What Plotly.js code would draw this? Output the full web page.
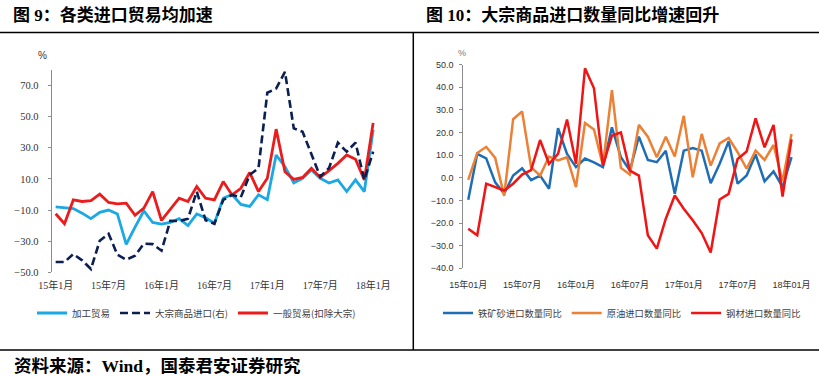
<!DOCTYPE html>
<html>
<head>
<meta charset="utf-8">
<script src="https://cdn.plot.ly/plotly-3.0.1.min.js"></script>
<style>
html,body{margin:0;padding:0;background:#fff;}
#chart{width:819px;height:376px;}
</style>
</head>
<body>
<div id="chart"></div>
<script>
// ---- Data ----
const months = ["2015-01","2015-02","2015-03","2015-04","2015-05","2015-06","2015-07","2015-08","2015-09","2015-10","2015-11","2015-12",
"2016-01","2016-02","2016-03","2016-04","2016-05","2016-06","2016-07","2016-08","2016-09","2016-10","2016-11","2016-12",
"2017-01","2017-02","2017-03","2017-04","2017-05","2017-06","2017-07","2017-08","2017-09","2017-10","2017-11","2017-12","2018-01"];
const tickMonths = ["2015-01","2015-07","2016-01","2016-07","2017-01","2017-07","2018-01"];
const tickTextLeft = ["15年1月","15年7月","16年1月","16年7月","17年1月","17年7月","18年1月"];
const tickTextRight = ["15年01月","15年07月","16年01月","16年07月","17年01月","17年07月","18年01月"];

// Fig 9 (%, YoY)
const processingTrade = [-8,-8.5,-9,-12,-15.5,-11.5,-10,-12.5,-32,-21,-10.5,-18,-19,-18,-15.5,-20,-12.5,-15,-18.5,-2.4,0,-6.4,-7.7,-0.2,-3.3,25.4,17.9,7.4,10.4,15.7,10.4,7.4,9.4,1.9,9.4,1.9,41.5];
const bulkImports = [-43.4,-43.4,-38.3,-42.3,-47.9,-29.7,-25.2,-38.7,-41.9,-39.4,-31.6,-31.9,-36.1,-16.9,-17.1,-15.6,1.9,-16.5,-18.8,-3.5,-0.3,-1.7,12.6,16.9,65.4,68.1,78.8,42.5,40.3,26,11.5,17,33.3,27.5,33.3,9.4,27.5];
const generalTrade = [-12.4,-18.8,-3.5,-4.5,-3.9,0.2,-5.1,-6,-5.6,-13.4,-8.8,1.9,-16.7,-9.9,-2.4,-4.5,5.1,-2.4,-3.5,8.3,-0.3,4,14.1,1.9,10.4,42,14.6,9.7,11,16.8,11,15.3,20,25.4,22.6,9.4,46];

// Fig 10 (%, YoY volume)
const ironOre = [-9.7,10.6,8.6,-2,-7,1,4.2,-1,1,-4.8,21.9,10.6,4.7,8.5,6.8,4.7,22.3,9.1,3.2,18.2,7.9,6.9,12,-7.1,12,13.2,12,-2.4,6.2,16.1,-2.6,1,10.3,-1.6,2.8,-4,9.1];
const crudeOil = [-0.9,11,13.7,8.8,-8,25.9,29.3,4.7,1,9.4,7.7,9.1,-4.1,24.2,21.4,5.4,38.8,4.4,1.4,23.4,18.2,9.1,18.2,9.4,27.4,0.2,19.4,5.4,15.2,17.6,11.3,4,12,7.9,14.5,-1.5,19.4];
const steel = [-22.5,-25.4,-2.6,-4.1,-5.6,-2.6,1.4,3.4,16.7,6.2,10.6,25.8,6.2,48.4,39.6,5.4,18.6,20.1,3.2,1,-25.4,-31.3,-18.1,-7.8,-13.7,-18.8,-24.4,-33,-9.6,-7.1,8.3,11.6,26.3,13.5,23.4,-8.3,17];

const W = 819, H = 376;
const px = v => v / W;
const py = v => (H - v) / H;

const serif = "Liberation Serif, 'Noto Sans CJK SC', serif";
const sans = "'Liberation Sans', 'Noto Sans CJK SC', sans-serif";
const cjk = "'Noto Sans CJK SC', 'Liberation Sans', sans-serif";

const traces = [
  {x: months, y: processingTrade, name: "加工贸易", type: "scatter", mode: "lines",
   line: {color: "#1aa9e3", width: 2.8}, xaxis: "x", yaxis: "y", legend: "legend"},
  {x: months, y: bulkImports, name: "大宗商品进口(右)", type: "scatter", mode: "lines",
   line: {color: "#0c1f52", width: 2.6, dash: "8px,4px"}, xaxis: "x", yaxis: "y2", legend: "legend"},
  {x: months, y: generalTrade, name: "一般贸易(扣除大宗)", type: "scatter", mode: "lines",
   line: {color: "#ec1c1c", width: 2.8}, xaxis: "x", yaxis: "y", legend: "legend"},
  {x: months, y: ironOre, name: "铁矿砂进口数量同比", type: "scatter", mode: "lines",
   line: {color: "#1f6db5", width: 2.5}, xaxis: "x2", yaxis: "y3", legend: "legend2"},
  {x: months, y: crudeOil, name: "原油进口数量同比", type: "scatter", mode: "lines",
   line: {color: "#ec8136", width: 2.5}, xaxis: "x2", yaxis: "y3", legend: "legend2"},
  {x: months, y: steel, name: "钢材进口数量同比", type: "scatter", mode: "lines",
   line: {color: "#f01414", width: 2.5}, xaxis: "x2", yaxis: "y3", legend: "legend2"}
];

const leftDomX = [px(51.7), px(378)];
const leftDomY = [py(272.3), py(70)];
const rightDomX = [px(463.3), px(796)];
const rightDomY = [py(268.3), py(64.7)];

const layout = {
  width: W, height: H,
  margin: {l: 0, r: 0, t: 0, b: 0},
  paper_bgcolor: "#ffffff", plot_bgcolor: "#ffffff",
  showlegend: true,
  xaxis: {
    domain: leftDomX, anchor: "y", type: "category", range: [-0.45, 36.55],
    tickvals: tickMonths, ticktext: tickTextLeft, showgrid: false, zeroline: false,
    showline: false, ticks: "", tickfont: {family: serif, size: 10, color: "#333"},
    ticklabelstandoff: 6
  },
  yaxis: {
    domain: leftDomY, anchor: "x", range: [-50, 80], tickvals: [-50,-30,-10,10,30,50,70],
    tickformat: ".1f", showgrid: false, zeroline: false, showline: true, linecolor: "#8c8c8c", linewidth: 1,
    ticks: "outside", ticklen: 3, tickcolor: "#8c8c8c",
    tickfont: {family: serif, size: 10.5, color: "#333"}, ticklabelstandoff: 7
  },
  yaxis2: {
    overlaying: "y", anchor: "x", side: "right", range: [-50, 80], visible: false
  },
  xaxis3: {
    overlaying: "x", anchor: "free", position: py(194.6), type: "linear", range: [-0.45, 36.55],
    showline: true, linecolor: "#8c8c8c", linewidth: 1.2, ticks: "outside", ticklen: 4, tickcolor: "#8c8c8c",
    tickvals: [5.5,11.5,17.5,23.5,29.5,35.5], showticklabels: false, showgrid: false, zeroline: false
  },
  xaxis2: {
    domain: rightDomX, anchor: "y3", type: "category", range: [-0.55, 36.5],
    tickvals: tickMonths, ticktext: tickTextRight, showgrid: false, zeroline: false,
    showline: false, ticks: "", tickfont: {family: sans, size: 9, color: "#333"},
    ticklabelstandoff: 10
  },
  yaxis3: {
    domain: rightDomY, anchor: "x2", range: [-40, 50], dtick: 10, tickformat: ".1f",
    showgrid: false, zeroline: false, showline: true, linecolor: "#8c8c8c", linewidth: 1,
    ticks: "outside", ticklen: 3, tickcolor: "#8c8c8c",
    tickfont: {family: sans, size: 9, color: "#333"}, ticklabelstandoff: 4
  },
  xaxis4: {
    overlaying: "x2", anchor: "free", position: py(177.3), type: "linear", range: [-0.55, 36.5],
    showline: true, linecolor: "#555", linewidth: 1.2, ticks: "outside", ticklen: 4, tickcolor: "#555",
    tickvals: [5.5,11.5,17.5,23.5,29.5,35.5], showticklabels: false, showgrid: false, zeroline: false
  },
  legend: {
    orientation: "h", x: px(32), xanchor: "left", y: py(313), yanchor: "middle",
    font: {family: cjk, size: 9.5, color: "#404040"}, bgcolor: "rgba(0,0,0,0)", borderwidth: 0
  },
  legend2: {
    orientation: "h", x: px(438), xanchor: "left", y: py(313), yanchor: "middle",
    font: {family: cjk, size: 9.3, color: "#404040"}, bgcolor: "rgba(0,0,0,0)", borderwidth: 0
  },
  annotations: [
    {text: "<b>图 9：各类进口贸易均加速</b>", xref: "paper", yref: "paper", x: px(11), y: py(15.5),
     xanchor: "left", yanchor: "middle", showarrow: false, font: {family: serif, size: 17, color: "#000"}},
    {text: "<b>图 10：大宗商品进口数量同比增速回升</b>", xref: "paper", yref: "paper", x: px(424), y: py(15.5),
     xanchor: "left", yanchor: "middle", showarrow: false, font: {family: serif, size: 17, color: "#000"}},
    {text: "<b>资料来源：Wind，国泰君安证券研究</b>", xref: "paper", yref: "paper", x: px(12), y: py(365.5),
     xanchor: "left", yanchor: "middle", showarrow: false, font: {family: serif, size: 17.5, color: "#000"}},
    {text: "%", xref: "paper", yref: "paper", x: px(42), y: py(55),
     xanchor: "center", yanchor: "middle", showarrow: false, font: {family: sans, size: 10, color: "#333"}},
    {text: "%", xref: "paper", yref: "paper", x: px(462), y: py(53),
     xanchor: "center", yanchor: "middle", showarrow: false, font: {family: sans, size: 9, color: "#777"}}
  ],
  shapes: [
    {type: "line", xref: "paper", yref: "paper", x0: 0, x1: 1, y0: py(32.5), y1: py(32.5), line: {color: "#000", width: 1.5}},
    {type: "line", xref: "paper", yref: "paper", x0: px(413.3), x1: px(413.3), y0: py(32.5), y1: py(350), line: {color: "#000", width: 1.5}},
    {type: "line", xref: "paper", yref: "paper", x0: 0, x1: 1, y0: py(350), y1: py(350), line: {color: "#000", width: 1.5}}
  ]
};

Plotly.newPlot("chart", traces, layout, {displayModeBar: false, staticPlot: true});
</script>
</body>
</html>
